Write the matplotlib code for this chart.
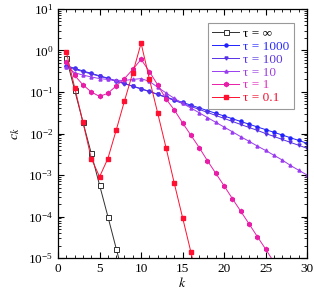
import matplotlib
matplotlib.use("Agg")
import matplotlib.pyplot as plt
from matplotlib.ticker import LogLocator, MultipleLocator, NullFormatter

plt.rcParams['font.family'] = ['Liberation Serif', 'DejaVu Serif']
plt.rcParams['mathtext.fontset'] = 'stix'

labels = ["τ = ∞", "τ = 1000", "τ = 100", "τ = 10", "τ = 1", "τ = 0.1"]
colors = ["#303030", "#2020ff", "#5530e8", "#9a3cf0", "#e81ea8", "#ff1030"]
text_colors = ["#000000", "#2a2aff", "#5a36e0", "#9a40e0", "#e030c0", "#f01030"]

k_inf = [1, 2, 3, 4, 5, 6, 7, 8]
c_inf = [0.65, 0.11, 0.0186, 0.0033, 5.7e-4, 1.0e-4, 1.7e-5, 2.9e-6]

k_all = list(range(1, 31))
c_1000 = [0.43, 0.37, 0.32, 0.28, 0.245, 0.215, 0.185, 0.16, 0.138, 0.12,
          0.103, 0.088, 0.0757, 0.0651, 0.056, 0.0482, 0.0414, 0.0356, 0.0306, 0.0264,
          0.0227, 0.0195, 0.0168, 0.0144, 0.0124, 0.0107, 0.0092, 0.0079, 0.0068, 0.0058]
c_100 = [0.40, 0.35, 0.31, 0.27, 0.24, 0.21, 0.18, 0.158, 0.137, 0.118,
         0.102, 0.087, 0.0737, 0.0624, 0.0529, 0.0448, 0.038, 0.0322, 0.0272, 0.0231,
         0.0195, 0.0165, 0.014, 0.0119, 0.0100, 0.0085, 0.0072, 0.0061, 0.0052, 0.0044]
c_10 = [0.40, 0.29, 0.255, 0.23, 0.21, 0.20, 0.19, 0.19, 0.20, 0.21,
        0.18, 0.13, 0.095, 0.07, 0.053, 0.041, 0.0316, 0.0242, 0.0186, 0.0143,
        0.011, 0.0084, 0.0065, 0.005, 0.0039, 0.003, 0.0023, 0.0017, 0.0013, 0.001]

k_1 = list(range(1, 27))
c_1 = [0.54, 0.25, 0.148, 0.10, 0.078, 0.093, 0.14, 0.21, 0.35, 0.61,
       0.31, 0.148, 0.068, 0.037, 0.018, 0.0091, 0.0046, 0.0022, 0.0011, 5.5e-4,
       2.7e-4, 1.35e-4, 6.7e-5, 3.3e-5, 1.65e-5, 8e-6]

k_01 = list(range(1, 18))
c_01 = [0.9, 0.127, 0.0186, 0.0025, 9.1e-4, 0.0025, 0.012, 0.061, 0.29, 1.49,
        0.205, 0.031, 0.0046, 6.3e-4, 9.4e-5, 1.4e-5, 2e-6]

fig = plt.figure(figsize=(3.14, 2.97), dpi=100)
ax = fig.add_axes([0.185, 0.131, 0.793, 0.839])

ax.plot(k_inf, c_inf, color=colors[0], lw=0.7, marker='s', ms=3.6,
        mfc='white', mec=colors[0], mew=0.7, label=labels[0])
ax.plot(k_all, c_1000, color=colors[1], lw=0.7, marker='o', ms=2.2,
        label=labels[1])
ax.plot(k_all, c_100, color=colors[2], lw=0.7, marker='v', ms=2.2,
        label=labels[2])
ax.plot(k_all, c_10, color=colors[3], lw=0.7, marker='^', ms=2.2,
        label=labels[3])
ax.plot(k_1, c_1, color=colors[4], lw=0.7, marker='h', ms=3.0,
        label=labels[4])
ax.plot(k_01, c_01, color=colors[5], lw=0.7, marker='s', ms=2.4,
        label=labels[5])

ax.set_yscale('log')
ax.set_xlim(0, 30)
ax.set_ylim(1e-5, 10)
ax.xaxis.set_major_locator(MultipleLocator(5))
ax.xaxis.set_minor_locator(MultipleLocator(1))
ax.yaxis.set_major_locator(LogLocator(base=10, numticks=20))
ax.yaxis.set_minor_locator(LogLocator(base=10, subs=range(2, 10), numticks=20))
ax.yaxis.set_minor_formatter(NullFormatter())
ax.tick_params(which='both', direction='in', top=True, right=True, labelsize=9.5)
ax.tick_params(which='major', length=4, width=0.8)
ax.tick_params(which='minor', length=2, width=0.6)
for s in ax.spines.values():
    s.set_linewidth(0.9)

ax.set_xlabel('$k$', fontsize=10, labelpad=1)
ax.set_ylabel('$c_k$', fontsize=10, labelpad=4)

leg = ax.legend(loc='upper right', fontsize=9.5, frameon=True, fancybox=False,
                edgecolor='#999999', framealpha=1, handlelength=2.0,
                handletextpad=0.3, borderpad=0.35, labelspacing=0.05,
                bbox_to_anchor=(0.972, 0.97))
leg.get_frame().set_linewidth(0.8)
for t, c in zip(leg.get_texts(), text_colors):
    t.set_color(c)

fig.savefig('out.png', dpi=100)
